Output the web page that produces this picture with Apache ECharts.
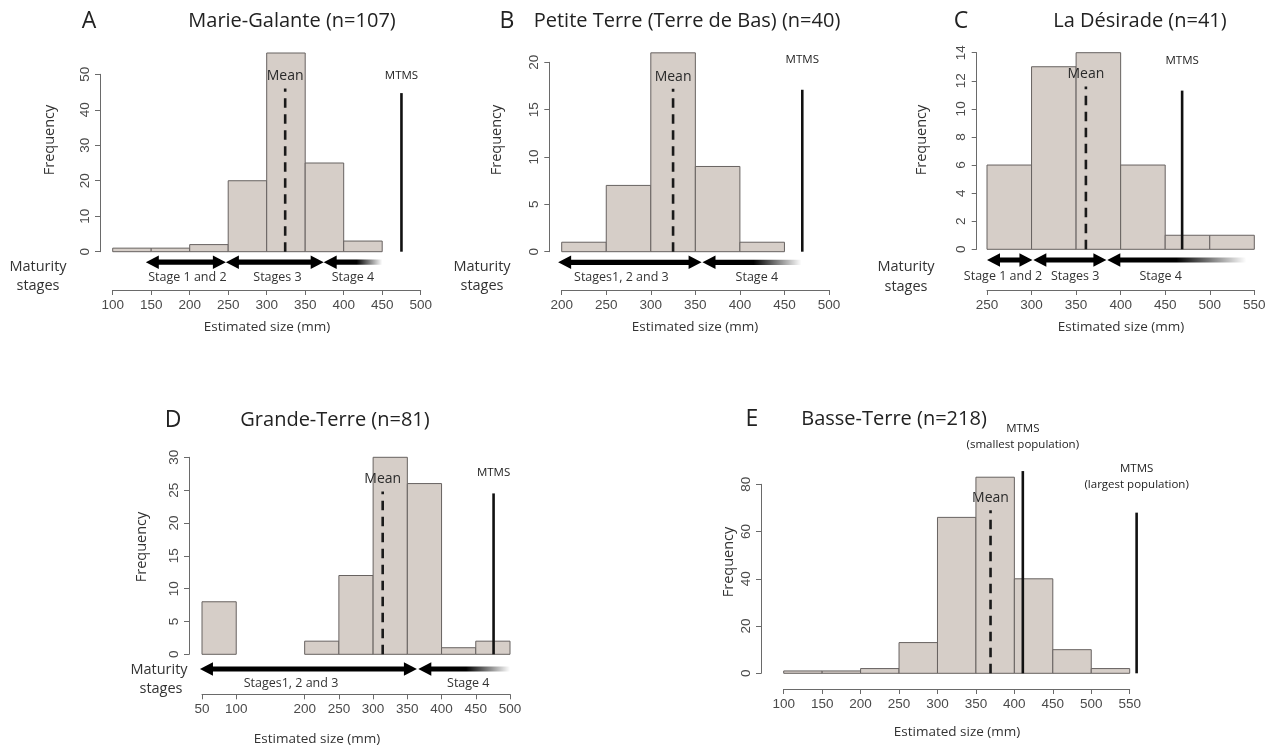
<!DOCTYPE html>
<html>
<head>
<meta charset="utf-8">
<script src="https://cdn.jsdelivr.net/npm/echarts@6/dist/echarts.min.js"></script>
<style>
html,body{margin:0;padding:0;background:#fff;}
#chart{width:1273px;height:749px;}
</style>
</head>
<body>
<div id="chart"></div>
<script>
// ---------------- DATA ----------------
const edgesA = [100,150,200,250,300,350,400,450];
const countsA = [1,1,2,20,56,25,3];
const edgesB = [200,250,300,350,400,450];
const countsB = [1,7,21,9,1];
const edgesC = [250,300,350,400,450,500,550];
const countsC = [6,13,14,6,1,1];
const edgesD = [50,100,150,200,250,300,350,400,450,500];
const countsD = [8,0,0,2,12,30,26,1,2];
const edgesE = [100,150,200,250,300,350,400,450,500,550];
const countsE = [1,1,2,13,66,83,40,10,2];

const xTicksA = [100,150,200,250,300,350,400,450,500];
const xTicksB = [200,250,300,350,400,450,500];
const xTicksC = [250,300,350,400,450,500,550];
const xTicksD = [50,100,200,250,300,350,400,450,500];
const xTicksE = [100,150,200,250,300,350,400,450,500,550];

const yTicksA = [0,10,20,30,40,50];
const yTicksB = [0,5,10,15,20];
const yTicksC = [0,2,4,6,8,10,12,14];
const yTicksD = [0,5,10,15,20,25,30];
const yTicksE = [0,20,40,60,80];

// mean size and drawn height of the mean line (frequency units)
const meanA = [324, 46];
const meanB = [325, 17.2];
const meanC = [361, 11.6];
const meanD = [314, 24.8];
const meanE = [369, 69];

// MTMS lines: [size, height, label]
const mtmsA = [[475, 44.7, 'MTMS']];
const mtmsB = [[470, 17.1, 'MTMS']];
const mtmsC = [[469, 11.3, 'MTMS']];
const mtmsD = [[476, 24.5, 'MTMS']];
const mtmsE = [[411, 85.6, 'MTMS\n(smallest population)'], [559, 68, 'MTMS\n(largest population)']];

// maturity stage ranges: [from, to, fade(1)/double(0), label centre, label]
const stagesA = [[143,247,0,197,'Stage 1 and 2'],[247,374,0,314,'Stages 3'],[374,450,1,412,'Stage 4']];
const stagesB = [[196,357,0,267,'Stages1, 2 and 3'],[358,469,1,419,'Stage 4']];
const stagesC = [[250,301,0,268,'Stage 1 and 2'],[302,384,0,349,'Stages 3'],[385,541,1,445,'Stage 4']];
const stagesD = [[47,364,0,180,'Stages1, 2 and 3'],[366,500,1,439,'Stage 4']];

const titles = ['Marie-Galante (n=107)','Petite Terre (Terre de Bas) (n=40)','La Désirade (n=41)','Grande-Terre (n=81)','Basse-Terre (n=218)'];
const letters = ['A','B','C','D','E'];

// ---------------- LAYOUT / STYLE ----------------
const FONT = '"Open Sans", "Noto Sans", sans-serif';
const NUMFONT = '"Liberation Sans", Arial, sans-serif';
const panels = [
  {edges:edgesA, counts:countsA, xt:xTicksA, yt:yTicksA, mean:meanA, mtms:mtmsA, stages:stagesA,
   grid:{left:112.7, top:74.3, width:308, height:177.4}, xOff:38.3, yOff:12.7, mtmsGap:[9], arrowY:10.5, stageY:25.5},
  {edges:edgesB, counts:countsB, xt:xTicksB, yt:yTicksB, mean:meanB, mtms:mtmsB, stages:stagesB,
   grid:{left:561.7, top:62.3, width:267.3, height:189.4}, xOff:38.3, yOff:12.4, mtmsGap:[22], arrowY:10.6, stageY:25.5},
  {edges:edgesC, counts:countsC, xt:xTicksC, yt:yTicksC, mean:meanC, mtms:mtmsC, stages:stagesC,
   grid:{left:987, top:52.7, width:267.3, height:196.6}, xOff:40.7, yOff:10.3, mtmsGap:[22], arrowY:10.7, stageY:27.5},
  {edges:edgesD, counts:countsD, xt:xTicksD, yt:yTicksD, mean:meanD, mtms:mtmsD, stages:stagesD,
   grid:{left:202, top:457.3, width:308, height:197}, xOff:40, yOff:13, mtmsGap:[13], arrowY:14.7, stageY:29},
  {edges:edgesE, counts:countsE, xt:xTicksE, yt:yTicksE, mean:meanE, mtms:mtmsE, stages:null,
   grid:{left:783.7, top:484.3, width:346, height:189}, xOff:15.7, yOff:22.7, mtmsGap:[18,20], arrowY:0, stageY:0}
];

const grids = [], xAxes = [], yAxes = [], series = [];

panels.forEach((p, i) => {
  grids.push(Object.assign({containLabel:false}, p.grid));
  const axisCol = '#6a6a6a';
  xAxes.push({
    type:'value', gridIndex:i, min:p.xt[0], max:p.xt[p.xt.length-1], offset:p.xOff,
    axisLine:{show:true, onZero:false, lineStyle:{color:axisCol, width:1}},
    axisTick:{show:true, length:5, lineStyle:{color:axisCol}, customValues:p.xt},
    axisLabel:{show:true, customValues:p.xt, color:'#4a4a4a', fontSize:13.5, margin:8, fontFamily:NUMFONT},
    splitLine:{show:false}
  });
  yAxes.push({
    type:'value', gridIndex:i, min:p.yt[0], max:p.yt[p.yt.length-1], offset:p.yOff,
    axisLine:{show:true, onZero:false, lineStyle:{color:axisCol, width:1}},
    axisTick:{show:true, length:5, lineStyle:{color:axisCol}, customValues:p.yt},
    axisLabel:{show:true, customValues:p.yt, color:'#4a4a4a', fontSize:13.5, margin:8, rotate:90, fontFamily:NUMFONT},
    splitLine:{show:false}
  });

  // histogram bars
  series.push({
    type:'custom', xAxisIndex:i, yAxisIndex:i, clip:false, silent:true,
    data:p.counts.map((c,k)=>[p.edges[k], p.edges[k+1], c]),
    encode:{x:[0,1], y:2},
    renderItem(params, api){
      const c = api.value(2);
      if (!c) return null;
      const a = api.coord([api.value(0), c]);
      const b = api.coord([api.value(1), 0]);
      return {type:'rect', shape:{x:a[0], y:a[1], width:b[0]-a[0], height:b[1]-a[1]},
        style:{fill:'#d6cec8', stroke:'#676260', lineWidth:1}};
    }
  });

  // mean line
  series.push({
    type:'custom', xAxisIndex:i, yAxisIndex:i, clip:false, silent:true,
    data:[p.mean], encode:{x:0, y:1},
    renderItem(params, api){
      const b = api.coord([api.value(0), 0]);
      const t = api.coord([api.value(0), api.value(1)]);
      return {type:'group', children:[
        {type:'line', shape:{x1:b[0], y1:b[1], x2:t[0], y2:t[1]},
         style:{stroke:'#1a1a1a', lineWidth:2.6, lineDash:[9.5,6.5], lineDashOffset:0}},
        {type:'text', style:{text:'Mean', x:t[0], y:t[1]-12, align:'center', verticalAlign:'middle',
          fill:'#2a2a2a', fontSize:14, fontFamily:FONT}}
      ]};
    }
  });

  // MTMS lines
  series.push({
    type:'custom', xAxisIndex:i, yAxisIndex:i, clip:false, silent:true,
    data:p.mtms.map(m=>[m[0], m[1]]), encode:{x:0, y:1},
    renderItem(params, api){
      const k = params.dataIndex;
      const label = p.mtms[k][2];
      const b = api.coord([api.value(0), 0]);
      const t = api.coord([api.value(0), api.value(1)]);
      return {type:'group', children:[
        {type:'line', shape:{x1:b[0], y1:b[1], x2:t[0], y2:t[1]}, style:{stroke:'#111', lineWidth:2.6}},
        {type:'text', style:{text:label, x:t[0], y:t[1]-p.mtmsGap[k], align:'center', verticalAlign:'bottom',
          fill:'#222', fontSize:11.5, lineHeight:16, fontFamily:FONT}}
      ]};
    }
  });

  // maturity stage arrows
  if (p.stages) {
    series.push({
      type:'custom', xAxisIndex:i, yAxisIndex:i, clip:false, silent:true,
      data:p.stages.map(s=>[s[0], s[1], s[2], s[3]]), encode:{x:[0,1]},
      renderItem(params, api){
        const s = p.stages[params.dataIndex];
        const x0 = api.coord([api.value(0), 0])[0];
        const x1 = api.coord([api.value(1), 0])[0];
        const y = api.coord([api.value(0), 0])[1] + p.arrowY;
        const lx = api.coord([api.value(3), 0])[0];
        const ly = api.coord([api.value(3), 0])[1] + p.stageY;
        const hl = 13, hw = 6.8, sw = 2.6;
        const children = [];
        if (api.value(2) === 0) {
          children.push({type:'polygon', shape:{points:[
            [x0,y],[x0+hl,y-hw],[x0+hl,y-sw],[x1-hl,y-sw],[x1-hl,y-hw],[x1,y],
            [x1-hl,y+hw],[x1-hl,y+sw],[x0+hl,y+sw],[x0+hl,y+hw]]}, style:{fill:'#000'}});
        } else {
          children.push({type:'polygon', shape:{points:[[x0,y],[x0+hl,y-hw],[x0+hl,y+hw]]}, style:{fill:'#000'}});
          children.push({type:'rect', shape:{x:x0+hl-1, y:y-sw, width:x1-x0-hl+1, height:sw*2},
            style:{fill:{type:'linear', x:0, y:0, x2:1, y2:0, colorStops:[
              {offset:0, color:'rgba(0,0,0,1)'},{offset:0.45, color:'rgba(0,0,0,1)'},{offset:1, color:'rgba(0,0,0,0)'}]}}});
        }
        children.push({type:'text', style:{text:s[4], x:lx, y:ly, align:'center', verticalAlign:'middle',
          fill:'#333', fontSize:12.5, fontFamily:FONT}});
        return {type:'group', children};
      }
    });
  }
});

// static texts
const txt = (text, x, y, size, opts) => Object.assign({
  type:'text', x, y, silent:true,
  style:Object.assign({text, fill:'#222', fontSize:size, fontFamily:FONT, align:'center', verticalAlign:'middle'}, opts||{})
});
const TS = 20;
const graphics = [
  txt('A', 89, 21, 23), txt(titles[0], 292, 21, TS),
  txt('B', 507, 21, 23), txt(titles[1], 687, 21, TS),
  txt('C', 961, 21, 23), txt(titles[2], 1140, 21, TS),
  txt('D', 173, 420, 23), txt(titles[3], 335, 420, TS),
  txt('E', 752, 419, 23), txt(titles[4], 894, 419, TS),
  // Frequency labels
  Object.assign(txt('Frequency', 50, 140, 14.5, {fill:'#333'}), {rotation:Math.PI/2}),
  Object.assign(txt('Frequency', 497, 140, 14.5, {fill:'#333'}), {rotation:Math.PI/2}),
  Object.assign(txt('Frequency', 922, 140, 14.5, {fill:'#333'}), {rotation:Math.PI/2}),
  Object.assign(txt('Frequency', 142, 547, 14.5, {fill:'#333'}), {rotation:Math.PI/2}),
  Object.assign(txt('Frequency', 729, 562, 14.5, {fill:'#333'}), {rotation:Math.PI/2}),
  // Maturity stages
  txt('Maturity', 38, 267, 14.5, {fill:'#333'}), txt('stages', 38, 286, 14.5, {fill:'#333'}),
  txt('Maturity', 482, 267, 14.5, {fill:'#333'}), txt('stages', 482, 286, 14.5, {fill:'#333'}),
  txt('Maturity', 906, 267, 14.5, {fill:'#333'}), txt('stages', 906, 287, 14.5, {fill:'#333'}),
  txt('Maturity', 159, 670, 14.5, {fill:'#333'}), txt('stages', 161, 689, 14.5, {fill:'#333'}),
  // x axis names
  txt('Estimated size (mm)', 267, 327, 13.5, {fill:'#333'}),
  txt('Estimated size (mm)', 695, 327, 13.5, {fill:'#333'}),
  txt('Estimated size (mm)', 1121, 327, 13.5, {fill:'#333'}),
  txt('Estimated size (mm)', 317, 739, 13.5, {fill:'#333'}),
  txt('Estimated size (mm)', 957, 732, 13.5, {fill:'#333'})
];

const chart = echarts.init(document.getElementById('chart'), null, {renderer:'canvas'});
chart.setOption({
  backgroundColor:'#ffffff',
  animation:false,
  grid:grids, xAxis:xAxes, yAxis:yAxes, series:series, graphic:graphics
});
</script>
</body>
</html>
